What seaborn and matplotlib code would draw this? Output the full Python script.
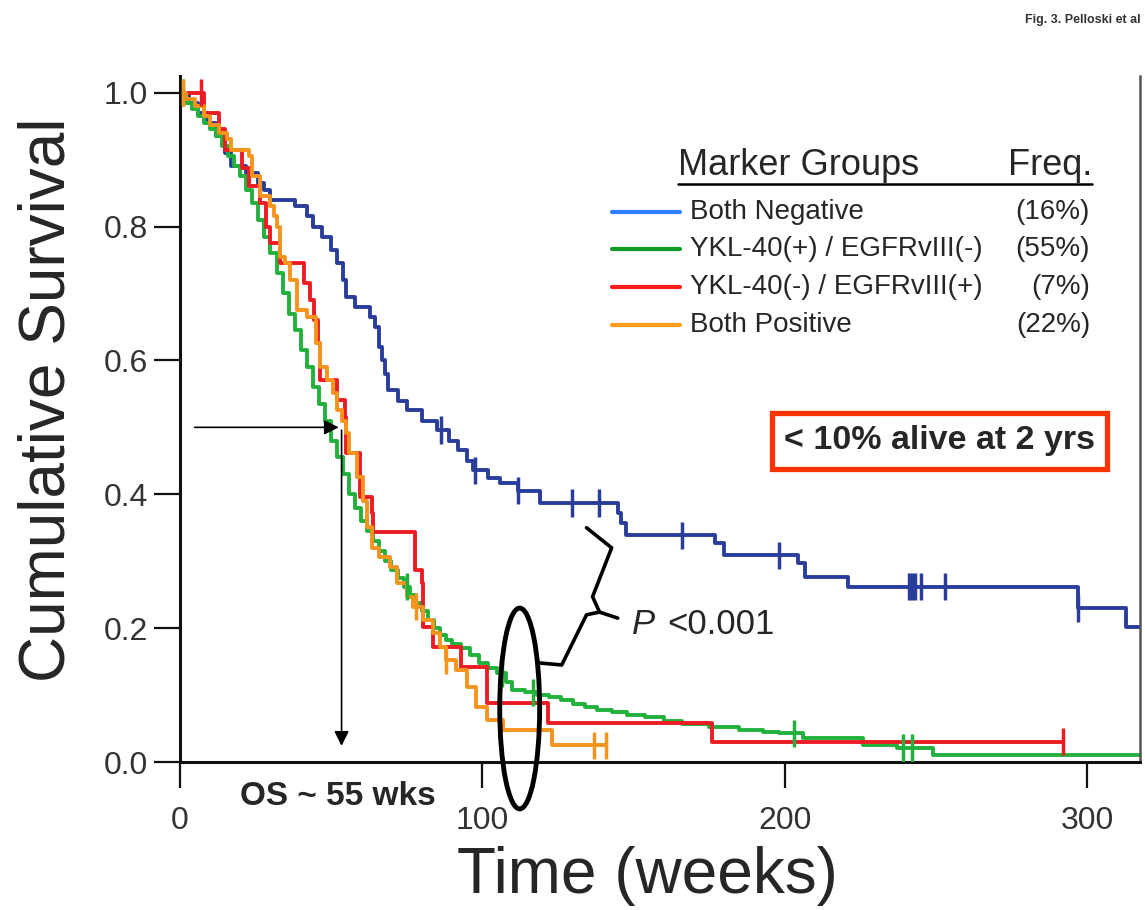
import numpy as np
import pandas as pd
import matplotlib
matplotlib.use("Agg")
import matplotlib.pyplot as plt
import seaborn as sns
from matplotlib.patches import Ellipse

# groups / legend
groups = ["Both Negative", "YKL-40(+) / EGFRvIII(-)", "YKL-40(-) / EGFRvIII(+)", "Both Positive"]
freqs = ["(16%)", "(55%)", "(7%)", "(22%)"]
curve_colors = ["#2b3d9a", "#22b13c", "#ec1c24", "#f7941d"]
legend_colors = ["#2a7fff", "#0f9a26", "#ff1a1a", "#ff9a1a"]

# Kaplan-Meier steps (time in weeks, survival after the step)
neg_t = [0, 3, 6, 9, 12, 15, 17, 22, 26, 28, 30, 38, 42, 44, 47, 50, 52, 54, 55, 58, 63, 64.5, 66, 67, 68,
         69, 72, 75, 80, 85, 89, 92, 95, 97, 102, 106, 112, 119, 144.8, 146, 147.7, 176.9, 180, 204.3,
         206.6, 221, 297, 313]
neg_s = [1.0, 0.985, 0.97, 0.955, 0.935, 0.91, 0.89, 0.88, 0.865, 0.855, 0.84, 0.83, 0.815, 0.80, 0.785,
         0.765, 0.745, 0.72, 0.695, 0.68, 0.665, 0.65, 0.62, 0.60, 0.58, 0.556, 0.54, 0.526, 0.51, 0.496,
         0.48, 0.466, 0.45, 0.436, 0.425, 0.417, 0.405, 0.387, 0.372, 0.357, 0.339, 0.327, 0.309, 0.297,
         0.277, 0.262, 0.23, 0.202]
neg_cens = [86.5, 97.5, 112, 129.6, 138.5, 166, 198, 241, 242, 243, 245, 253, 297]

ykl_t = [0, 2, 4, 6, 8, 10, 12, 14, 16, 18, 20, 22, 24, 26, 28, 30, 32, 34, 36, 38, 40, 42, 44, 46, 48,
         50, 52, 54, 56, 58, 60, 62, 64, 66, 68, 70, 72, 74, 76, 78, 80, 82, 84, 86, 88, 90, 93, 96, 99,
         102, 105, 108, 110, 114, 118, 122, 126, 130, 134, 138, 143, 148, 154, 160, 166, 175, 185, 193,
         198, 206, 226, 237, 249]
ykl_s = [1.0, 0.985, 0.975, 0.965, 0.955, 0.945, 0.935, 0.92, 0.905, 0.89, 0.875, 0.855, 0.835, 0.81,
         0.785, 0.76, 0.73, 0.70, 0.67, 0.645, 0.615, 0.59, 0.56, 0.535, 0.51, 0.48, 0.455, 0.43, 0.40,
         0.38, 0.36, 0.345, 0.33, 0.315, 0.30, 0.287, 0.275, 0.262, 0.25, 0.238, 0.225, 0.212, 0.20,
         0.19, 0.182, 0.176, 0.17, 0.16, 0.148, 0.14, 0.133, 0.12, 0.108, 0.104, 0.10, 0.097, 0.093,
         0.087, 0.082, 0.078, 0.075, 0.071, 0.067, 0.062, 0.057, 0.052, 0.048, 0.045, 0.043, 0.036,
         0.025, 0.021, 0.011]
ykl_cens = [1, 75, 106.5, 116.7, 203, 239, 242]

egfr_t = [0, 8, 13, 15, 20.5, 23, 26.4, 28.6, 30, 33, 41, 43, 44.5, 45.6, 46.3, 52, 54.5, 55, 59.5,
          63.5, 64, 77.7, 80, 80.5, 83.7, 93, 101.5, 121.6, 176]
egfr_s = [1.0, 0.97, 0.945, 0.915, 0.888, 0.86, 0.835, 0.80, 0.775, 0.746, 0.716, 0.69, 0.66, 0.626,
          0.571, 0.541, 0.516, 0.462, 0.396, 0.372, 0.344, 0.287, 0.267, 0.202, 0.172, 0.142, 0.088,
          0.059, 0.03]
egfr_cens = [7, 292]

pos_t = [0, 2, 5, 8, 10, 13, 15.5, 17, 23, 24, 26.4, 29.7, 31, 32, 33, 34.7, 36.4, 38.6, 42, 45, 46.3,
         48.6, 50.6, 52, 53.5, 55, 56, 58.5, 60.5, 62, 63.5, 66, 69.4, 71.7, 75, 77, 80.5, 83.6, 86, 88,
         91.5, 95, 98, 101.5, 107, 123]
pos_s = [1.0, 0.99, 0.98, 0.965, 0.952, 0.94, 0.93, 0.915, 0.905, 0.875, 0.845, 0.83, 0.815, 0.80,
         0.755, 0.746, 0.72, 0.676, 0.665, 0.626, 0.59, 0.571, 0.552, 0.526, 0.51, 0.492, 0.462, 0.426,
         0.39, 0.351, 0.32, 0.306, 0.291, 0.267, 0.247, 0.232, 0.212, 0.193, 0.172, 0.152, 0.1375,
         0.112, 0.082, 0.063, 0.048, 0.025]
pos_cens = [1, 78, 88, 137, 141]

end_times = [317.5, 317.5, 292, 141]
median_os = 53.5

steps = [(neg_t, neg_s), (ykl_t, ykl_s), (egfr_t, egfr_s), (pos_t, pos_s)]
cens = [neg_cens, ykl_cens, egfr_cens, pos_cens]

# long-form tables for seaborn
curve_rows, cens_rows = [], []
for g, (t, s), c, t_end in zip(groups, steps, cens, end_times):
    for ti, si in zip(list(t) + [t_end], list(s) + [s[-1]]):
        curve_rows.append((g, ti, si))
    for ci in c:
        idx = np.searchsorted(t, ci, side="right") - 1
        cens_rows.append((g, ci, s[idx]))
curves = pd.DataFrame(curve_rows, columns=["group", "time", "surv"])
censored = pd.DataFrame(cens_rows, columns=["group", "time", "surv"])
palette = dict(zip(groups, curve_colors))

sns.set_style("ticks")
plt.rcParams["font.family"] = ["Liberation Sans", "DejaVu Sans"]

fig = plt.figure(figsize=(11.45, 9.1), dpi=100)
ax = fig.add_axes([0.157, 0.1626, 0.8386, 0.754])

sns.lineplot(data=curves, x="time", y="surv", hue="group", palette=palette, estimator=None,
             sort=False, drawstyle="steps-post", lw=2.8, legend=False, ax=ax)
sns.scatterplot(data=censored, x="time", y="surv", hue="group", palette=palette, marker="|",
                s=380, linewidth=2.5, legend=False, ax=ax, zorder=3)

ax.set_xlim(0, 317.5)
ax.set_ylim(0, 1.025)
ax.set_xticks([0, 100, 200, 300])
ax.set_yticks([0.0, 0.2, 0.4, 0.6, 0.8, 1.0])
ax.set_yticklabels(["0.0", "0.2", "0.4", "0.6", "0.8", "1.0"])
ax.tick_params(axis="both", direction="out", length=19, width=1.6, labelsize=23,
               labelcolor="#333333", color="#111111")
ax.tick_params(axis="x", pad=13)
ax.tick_params(axis="y", pad=4)
for side in ["left", "bottom"]:
    ax.spines[side].set_linewidth(2.2)
    ax.spines[side].set_color("#111111")
ax.spines["top"].set_visible(False)
ax.spines["right"].set_color("#555555")
ax.spines["right"].set_linewidth(1.8)

ax.set_xlabel("Time (weeks)", fontsize=46)
ax.set_ylabel("Cumulative Survival", fontsize=46)
ax.xaxis.set_label_coords(0.4875, -0.122)
ax.yaxis.set_label_coords(-0.106, 0.528)

# median OS arrows
ax.annotate("", xy=(median_os, 0.5), xytext=(4, 0.5),
            arrowprops=dict(arrowstyle="-|>", color="black", lw=1.2, mutation_scale=22))
ax.annotate("", xy=(median_os, 0.02), xytext=(median_os, 0.5),
            arrowprops=dict(arrowstyle="-|>", color="black", lw=1.2, mutation_scale=22))
ax.text(52.2, -0.052, "OS ~ 55 wks", fontsize=24, fontweight="bold", ha="center", va="center")

# ellipse + brace + p value
ax.add_patch(Ellipse((112.4, 0.08), 13.2, 0.30, fill=False, lw=3.5, ec="black", clip_on=False, zorder=5))
ax.plot([134.5, 142.8, 136.5, 138.8, 144.8], [0.350, 0.320, 0.247, 0.224, 0.215], color="black", lw=2.6)
ax.plot([138.8, 134.5, 126.3, 119.0], [0.224, 0.220, 0.145, 0.148], color="black", lw=2.6)
ax.text(149.4, 0.205, "P", fontsize=25, style="italic", va="center", ha="left")
ax.text(161.3, 0.205, "<0.001", fontsize=25, va="center", ha="left")

# legend built by hand
ax.text(0.519, 0.870, "Marker Groups", transform=ax.transAxes, fontsize=26, va="center", ha="left")
ax.text(0.95, 0.870, "Freq.", transform=ax.transAxes, fontsize=26, va="center", ha="right")
ax.plot([0.519, 0.95], [0.843, 0.843], transform=ax.transAxes, color="black", lw=1.8)
row_y = [0.802, 0.748, 0.692, 0.637]
for g, f, col, y in zip(groups, freqs, legend_colors, row_y):
    ax.plot([0.45, 0.521], [y, y], transform=ax.transAxes, color=col, lw=3)
    ax.text(0.531, y, g, transform=ax.transAxes, fontsize=20, va="center", ha="left")
    ax.text(0.948, y, f, transform=ax.transAxes, fontsize=20, va="center", ha="right")

ax.text(0.791, 0.468, "< 10% alive at 2 yrs", transform=ax.transAxes, fontsize=24.5, fontweight="bold",
        ha="center", va="center",
        bbox=dict(boxstyle="square,pad=0.36", fc="white", ec="#ff3300", lw=3.8))

fig.text(0.996, 0.978, "Fig. 3. Pelloski et al", fontsize=9, fontweight="bold", color="#333333",
         ha="right", va="center")

fig.savefig("out.png", dpi=100)
